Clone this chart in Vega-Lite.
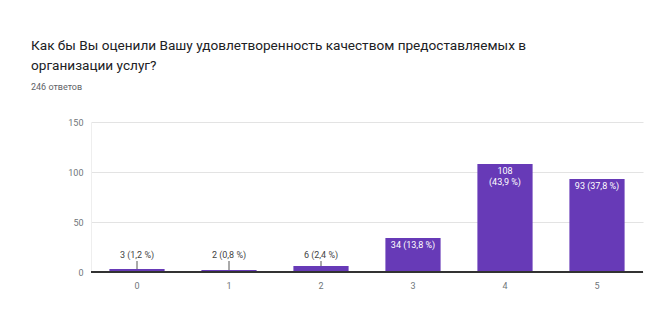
{
  "$schema": "https://vega.github.io/schema/vega-lite/v6.json",
  "autosize": "none",
  "width": 552,
  "height": 150,
  "padding": {"left": 91, "top": 122, "right": 4, "bottom": 53},
  "background": "white",
  "config": {"view": {"stroke": null}, "font": "Roboto"},
  "title": {
    "text": ["Как бы Вы оценили Вашу удовлетворенность качеством предоставляемых в", "организации услуг?"],
    "subtitle": "246 ответов",
    "anchor": "start",
    "frame": "group",
    "dx": -60,
    "offset": 26,
    "font": "Roboto",
    "fontSize": 13.6,
    "fontWeight": "normal",
    "color": "#202124",
    "lineHeight": 20,
    "subtitleFont": "Roboto",
    "subtitleFontSize": 9,
    "subtitleColor": "#5f6368",
    "subtitlePadding": 10
  },
  "data": {
    "values": [
      {"rating": "0", "count": 3, "label": "3 (1,2 %)"},
      {"rating": "1", "count": 2, "label": "2 (0,8 %)"},
      {"rating": "2", "count": 6, "label": "6 (2,4 %)"},
      {"rating": "3", "count": 34, "label": "34 (13,8 %)"},
      {"rating": "4", "count": 108, "label": "108\n(43,9 %)"},
      {"rating": "5", "count": 93, "label": "93 (37,8 %)"}
    ]
  },
  "encoding": {
    "x": {
      "field": "rating",
      "type": "nominal",
      "sort": null,
      "scale": {"paddingInner": 0.4, "paddingOuter": 0.2},
      "axis": {
        "title": null,
        "labelAngle": 0,
        "ticks": false,
        "domain": false,
        "labelPadding": 9,
        "labelFontSize": 9,
        "labelColor": "#70757a",
        "labelFont": "Roboto"
      }
    }
  },
  "layer": [
    {
      "mark": {"type": "bar", "color": "#673ab7"},
      "encoding": {
        "y": {
          "field": "count",
          "type": "quantitative",
          "scale": {"domain": [0, 150], "nice": false},
          "axis": {
            "title": null,
            "values": [0, 25, 50, 75, 100, 125, 150],
            "labelExpr": "datum.value % 50 === 0 ? datum.label : ''",
            "gridColor": {"condition": {"test": "datum.value % 50 === 0", "value": "#e3e3e3"}, "value": "#f3f3f3"},
            "ticks": false,
            "domain": true,
            "domainColor": "#eeeeee",
            "labelPadding": 8,
            "labelFontSize": 9,
            "labelColor": "#70757a",
            "labelFont": "Roboto"
          }
        }
      }
    },
    {
      "mark": {"type": "rule", "color": "#333333", "strokeWidth": 1.5},
      "encoding": {"y": {"datum": 0, "type": "quantitative"}, "x": null}
    },
    {
      "transform": [{"filter": "datum.count < 20"}],
      "mark": {"type": "rule", "color": "#555555", "strokeWidth": 1},
      "encoding": {
        "y": {"field": "count", "type": "quantitative"},
        "y2": {"datum": 11}
      }
    },
    {
      "transform": [{"filter": "datum.count < 20"}],
      "mark": {"type": "text", "fontSize": 9, "color": "#444444", "baseline": "middle", "font": "Roboto"},
      "encoding": {
        "y": {"datum": 17, "type": "quantitative"},
        "text": {"field": "label"}
      }
    },
    {
      "transform": [{"filter": "datum.count >= 20"}],
      "mark": {"type": "text", "fontSize": 9, "color": "white", "baseline": "top", "dy": 3, "lineHeight": 11, "lineBreak": "\n", "font": "Roboto"},
      "encoding": {
        "y": {"field": "count", "type": "quantitative"},
        "text": {"field": "label"}
      }
    }
  ]
}
